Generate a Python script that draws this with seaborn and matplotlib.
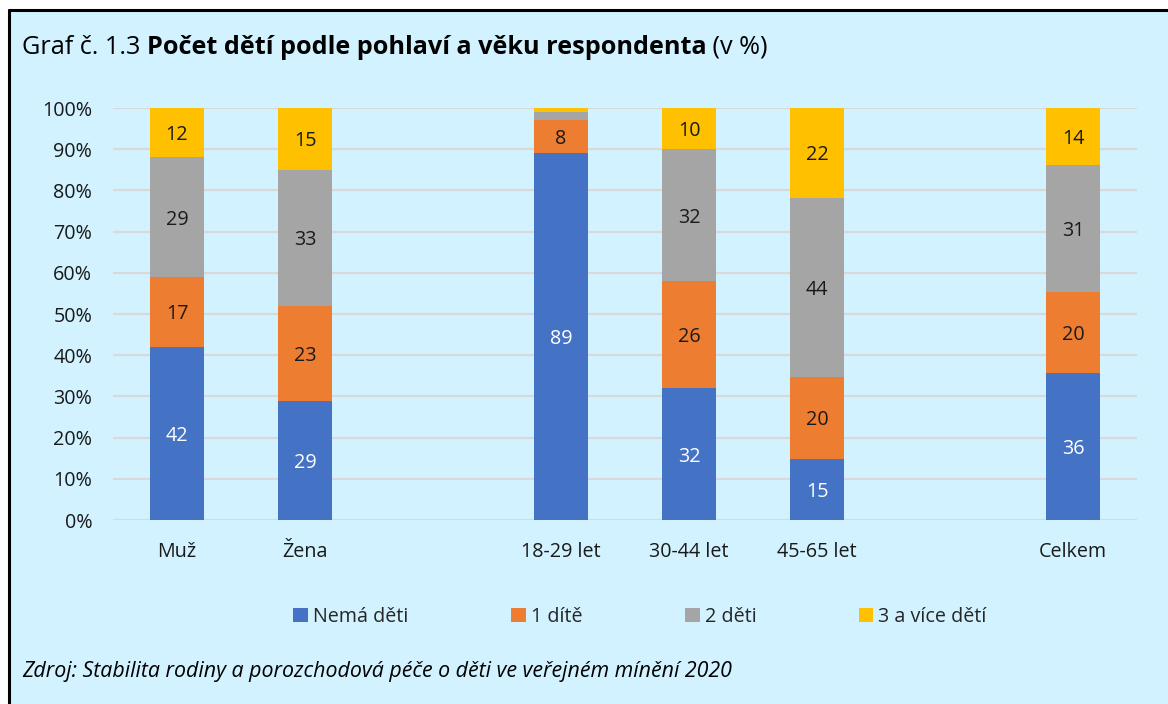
import numpy as np
import pandas as pd
import matplotlib
matplotlib.use("Agg")
import matplotlib.pyplot as plt
from matplotlib.patches import Rectangle, Patch
import seaborn as sns

categories = ["Muž", "Žena", "", "18-29 let", "30-44 let", "45-65 let", " ", "Celkem"]
nema_deti = [42, 29, None, 89, 32, 15, None, 36]
jedno_dite = [17, 23, None, 8, 26, 20, None, 20]
dve_deti = [29, 33, None, 2, 32, 44, None, 31]
tri_a_vice = [12, 15, None, 1, 10, 22, None, 14]
series_names = ["Nemá děti", "1 dítě", "2 děti", "3 a více dětí"]
colors = ["#4472C4", "#ED7D31", "#A5A5A5", "#FFC000"]
yticks = [0, 10, 20, 30, 40, 50, 60, 70, 80, 90, 100]

sns.set_theme(style="white")
plt.rcParams['font.family'] = ['Open Sans', 'DejaVu Sans']

FS = 14.2
BG = "#D1F2FE"
fig = plt.figure(figsize=(11.68, 7.04), dpi=100, facecolor="white")
fig.patches.append(Rectangle((8/1168, 0), 1.0, (704-10)/704, transform=fig.transFigure,
                             facecolor=BG, edgecolor="none", zorder=-5))
fig.lines.append(plt.Line2D([9/1168, 9/1168], [0, (704-10)/704], transform=fig.transFigure,
                            color="black", lw=2.2, zorder=-4))
fig.lines.append(plt.Line2D([9/1168, 1.0], [(704-10)/704, (704-10)/704], transform=fig.transFigure,
                            color="black", lw=2.2, zorder=-4))

ax = fig.add_axes([113/1168, 1-520/704, (1137-113)/1168, (520-108)/704])
ax.set_facecolor("none")

raw = np.array([[np.nan if v is None else v for v in s]
                for s in [nema_deti, jedno_dite, dve_deti, tri_a_vice]], dtype=float)
totals = raw.sum(axis=0)
pct = raw / totals * 100
cum = np.cumsum(pct, axis=0)

for i in range(3, -1, -1):
    df = pd.DataFrame({"cat": categories, "val": cum[i]})
    sns.barplot(data=df, x="cat", y="val", order=categories, color=colors[i],
                saturation=1, width=0.42, ax=ax, zorder=2, errorbar=None,
                linewidth=0, edgecolor="none")

for i in range(4):
    for j, c in enumerate(categories):
        v = raw[i, j]
        if np.isnan(v) or v < 5:
            continue
        yc = cum[i, j] - pct[i, j] / 2
        ax.text(j, yc - 0.6, f"{int(v)}", ha="center", va="center", fontsize=FS,
                color="white" if i == 0 else "#1a1a1a", zorder=5)

ax.set_xlim(-0.5, len(categories) - 0.5)
ax.set_ylim(0, 100)
ax.set_yticks(yticks)
ax.set_yticklabels([f"{t}%" for t in yticks], fontsize=FS, color="#1a1a1a")
ax.tick_params(axis="x", labelsize=FS, colors="#1a1a1a", pad=16, length=0)
ax.tick_params(axis="y", pad=15, length=0)
ax.set_xlabel("")
ax.set_ylabel("")
ax.grid(axis="y", color="#D9D9D9", lw=1.5, zorder=0)
ax.set_axisbelow(True)
for s in ax.spines.values():
    s.set_visible(False)

handles = [Patch(facecolor=c, edgecolor="none") for c in colors]
fig.legend(handles, series_names, loc="center", bbox_to_anchor=(0.548, 1-617/704), ncol=4,
           frameon=False, fontsize=FS, handlelength=0.75, handleheight=0.75,
           handletextpad=0.25, columnspacing=5.2)

fig.canvas.draw()
r = fig.canvas.get_renderer()
x = 22/1168
ty = 1-47/704
parts = [("Graf č. 1.3 ", "normal"), ("Počet dětí podle pohlaví a věku respondenta", "bold"), (" (v %)", "normal")]
for txt, w in parts:
    t = fig.text(x, ty, txt, fontsize=18.2, fontweight=w, ha="left", va="center", color="black")
    bb = t.get_window_extent(renderer=r)
    x += bb.width / fig.bbox.width

fig.text(22/1168, 1-672/704, "Zdroj: Stabilita rodiny a porozchodová péče o děti ve veřejném mínění 2020",
         fontsize=15.4, style="italic", ha="left", va="center", color="black")

fig.savefig("out.png", dpi=100, facecolor="white")
